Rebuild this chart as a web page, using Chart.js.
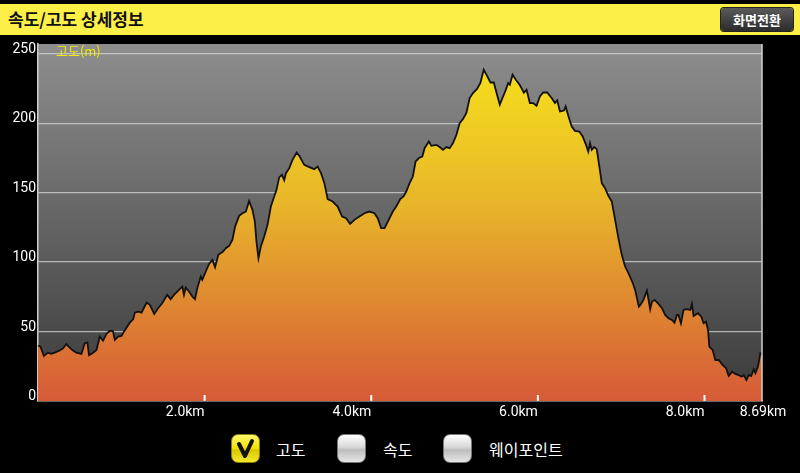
<!DOCTYPE html>
<html>
<head>
<meta charset="utf-8">
<script src="https://cdn.jsdelivr.net/npm/chart.js@4.4.1/dist/chart.umd.min.js"></script>
<style>
  html, body { margin: 0; padding: 0; background: #000; width: 800px; height: 473px; overflow: hidden;
    font-family: "Noto Sans CJK KR", sans-serif; }
  #header { position: absolute; left: 0; top: 4px; width: 800px; height: 31px; background: #fbef48; }
  #title { position: absolute; left: 8px; top: 0; line-height: 30px; font-size: 17px; font-weight: bold; color: #111; }
  #btn { position: absolute; left: 721px; top: 4px; width: 72px; height: 23px; border-radius: 3px;
    background: linear-gradient(#5a5a5a, #2c2c2c); color: #fff; font-size: 13px; font-weight: bold;
    line-height: 23px; text-align: center; box-shadow: 0 0 0 1px #222; }
  #wrap { position: absolute; left: 0; top: 36px; width: 800px; height: 390px; }
  .cb { position: absolute; top: 434px; width: 29px; height: 29px; border-radius: 7px; box-sizing: border-box;
    background: linear-gradient(#ffffff, #d8d8d8 45%, #bdbdbd 55%, #e6e6e6); border: 1px solid #777; }
  .cb.on { background: linear-gradient(#fff870, #f2e000 50%, #d9c800 55%, #f5e830); border-color: #8a8000; }
  .lt { position: absolute; top: 437px; line-height: 24px; font-size: 16px; color: #fff; }
</style>
</head>
<body>
<div id="header">
  <div id="title">속도/고도 상세정보</div>
  <div id="btn">화면전환</div>
</div>
<div id="wrap"><canvas id="altChart"></canvas></div>

<div class="cb on" style="left:231px">
  <svg width="27" height="27" viewBox="0 0 27 27"><polyline points="7,9 13,21 20,6" fill="none" stroke="#111" stroke-width="4" stroke-linejoin="round" stroke-linecap="round"/></svg>
</div>
<span class="lt" style="left:276px">고도</span>
<div class="cb" style="left:337px"></div>
<span class="lt" style="left:383px">속도</span>
<div class="cb" style="left:443px"></div>
<span class="lt" style="left:489px">웨이포인트</span>

<script>
// 거리(km) / 고도(m)
const distKm = [
  0, 0.031, 0.071, 0.119, 0.160, 0.200, 0.260, 0.300, 0.341, 0.380, 0.420, 0.461, 0.521, 0.561, 0.593, 0.613,
  0.661, 0.702, 0.741, 0.781, 0.822, 0.850, 0.874, 0.901, 0.922, 0.961, 1.002, 1.042, 1.102, 1.142, 1.162, 1.202,
  1.243, 1.303, 1.343, 1.395, 1.443, 1.491, 1.551, 1.592, 1.632, 1.692, 1.732, 1.752, 1.773, 1.812, 1.852, 1.884,
  1.912, 1.953, 1.972, 2.013, 2.053, 2.093, 2.125, 2.165, 2.221, 2.254, 2.294, 2.333, 2.366, 2.414, 2.454, 2.495,
  2.534, 2.574, 2.603, 2.622, 2.646, 2.675, 2.715, 2.755, 2.795, 2.835, 2.863, 2.895, 2.928, 2.955, 2.976, 3.016,
  3.055, 3.104, 3.136, 3.196, 3.256, 3.316, 3.356, 3.397, 3.437, 3.477, 3.537, 3.597, 3.650, 3.698, 3.746, 3.798,
  3.858, 3.918, 3.978, 4.038, 4.078, 4.119, 4.159, 4.199, 4.259, 4.300, 4.348, 4.387, 4.420, 4.460, 4.499, 4.532,
  4.572, 4.613, 4.640, 4.692, 4.721, 4.781, 4.821, 4.861, 4.901, 4.941, 4.981, 5.022, 5.061, 5.101, 5.142, 5.181,
  5.221, 5.270, 5.310, 5.350, 5.390, 5.431, 5.471, 5.510, 5.543, 5.575, 5.615, 5.643, 5.663, 5.696, 5.735, 5.783,
  5.832, 5.864, 5.904, 5.943, 5.984, 6.024, 6.064, 6.112, 6.165, 6.205, 6.232, 6.265, 6.313, 6.333, 6.365, 6.406,
  6.445, 6.497, 6.538, 6.578, 6.605, 6.626, 6.646, 6.674, 6.706, 6.738, 6.767, 6.806, 6.846, 6.887, 6.927, 6.966,
  7.007, 7.047, 7.087, 7.140, 7.167, 7.212, 7.231, 7.267, 7.309, 7.348, 7.369, 7.400, 7.440, 7.489, 7.528, 7.568,
  7.609, 7.640, 7.669, 7.688, 7.717, 7.749, 7.789, 7.829, 7.849, 7.869, 7.922, 7.962, 7.989, 8.018, 8.042, 8.058,
  8.098, 8.130, 8.170, 8.218, 8.259, 8.290, 8.331, 8.371, 8.410, 8.443, 8.471, 8.503, 8.531, 8.560, 8.591, 8.611,
  8.642, 8.670, 8.690
];
const altitude = [
  40, 39, 32.4, 34.8, 33.9, 34.8, 36.3, 38, 41, 38.4, 36.3, 34.8, 33.9, 41.6, 42, 33,
  34.8, 36.7, 46.3, 43.4, 48.3, 50, 50.6, 50, 44, 46.3, 46.8, 51, 56.4, 58.8, 63.6, 64.3,
  63.6, 70.8, 69.2, 62.7, 67, 70.4, 76.4, 73.3, 76.4, 80, 82.4, 76.4, 81.6, 78.8, 75.2, 73.3,
  81.2, 89.6, 87.2, 93.2, 98.7, 101.6, 96.3, 105.2, 107.6, 110, 111.7, 116, 125.6, 133.3, 135.2, 136.4,
  144, 137.6, 129.2, 114.8, 102.8, 111.2, 118.4, 126.8, 140, 147.2, 152, 161, 162.8, 159, 164, 167.6,
  173.6, 178.9, 176.5, 170, 168.4, 166.9, 168.8, 164, 156.8, 145.3, 143.6, 140, 132.8, 131.6, 127.5, 130.4,
  132.8, 135.2, 136.4, 135.2, 131.6, 124.4, 124.4, 129.2, 136.4, 140, 145.3, 147.2, 150.8, 156.8, 161.6, 172.4,
  174.9, 176, 182, 186.8, 183.7, 184.4, 182.8, 180.8, 182.8, 182, 185.6, 191.6, 200, 203, 207.3, 218.1,
  221.7, 224.6, 228.9, 238.5, 234.1, 229.3, 229.3, 220.5, 213.3, 218.1, 224, 228.9, 227.7, 234.9, 231.3, 227.5,
  222, 224, 214.5, 214.5, 212.5, 219.2, 222.1, 222.1, 218.1, 214.5, 216.4, 208.4, 209.1, 212, 205.3, 197.6,
  194.5, 194, 190.4, 184.4, 179.6, 185.6, 180.8, 182.8, 181.3, 168.8, 156.8, 153.2, 147.7, 143.6, 130.4, 117.2,
  105.2, 96.8, 92, 84.8, 80, 68, 69.2, 72.8, 79.5, 66.1, 71.5, 72.8, 70.4, 66.8, 62, 59.6,
  58.4, 56.4, 62, 62, 56, 65.6, 66.1, 65.6, 69.9, 61.2, 63.2, 60.7, 56, 57.1, 51.2, 39.1,
  36.7, 29.5, 29.5, 25.9, 23.6, 18, 21.1, 19.5, 18.7, 17.5, 18.7, 15.1, 18.7, 18, 22.8, 20,
  24.7, 34.4, 33
];
const yTicks = [0, 50, 100, 150, 200, 250];
const xTicks = [2, 4, 6, 8, 8.69];
const xTickLabels = ['2.0km', '4.0km', '6.0km', '8.0km', '8.69km'];
const yTitle = '고도(m)';

// 배경 + 라벨
const decorPlugin = {
  id: 'decor',
  beforeDraw(chart) {
    const { ctx, chartArea: a } = chart;
    const g = ctx.createLinearGradient(0, a.top, 0, a.bottom);
    g.addColorStop(0, '#8e8e8e');
    g.addColorStop(1, '#3a3a3a');
    ctx.save();
    ctx.fillStyle = g;
    ctx.fillRect(a.left, a.top, a.right - a.left, a.bottom - a.top);
    ctx.restore();
  },
  afterDraw(chart) {
    const { ctx, chartArea: a } = chart;
    const xs = chart.scales.x, ys = chart.scales.y;
    ctx.save();
    // right border
    ctx.strokeStyle = '#d0d0d0';
    ctx.lineWidth = 1.5;
    ctx.beginPath();
    ctx.moveTo(a.right, a.top);
    ctx.lineTo(a.right, a.bottom);
    ctx.stroke();

    ctx.font = '14px Roboto';
    ctx.fillStyle = '#fff';
    ctx.textAlign = 'right';
    ctx.textBaseline = 'alphabetic';
    yTicks.forEach(v => {
      ctx.fillText(String(v), a.left - 2, ys.getPixelForValue(v) - 1);
    });

    ctx.textBaseline = 'top';
    xTicks.forEach((v, i) => {
      const px = xs.getPixelForValue(v);
      const last = i === xTicks.length - 1;
      ctx.textAlign = last ? 'center' : 'right';
      ctx.fillText(xTickLabels[i], last ? px + 1 : px, a.bottom + 4);
      if (!last) {
        ctx.strokeStyle = '#fff';
        ctx.lineWidth = 2;
        ctx.beginPath();
        ctx.moveTo(px, a.bottom);
        ctx.lineTo(px, a.bottom - 6);
        ctx.stroke();
      }
    });

    ctx.font = '13px "Noto Sans CJK KR"';
    ctx.fillStyle = '#f2ea00';
    ctx.textAlign = 'left';
    ctx.textBaseline = 'middle';
    ctx.fillText(yTitle, a.left + 18, a.top + 7);
    ctx.restore();
  }
};

const canvas = document.getElementById('altChart');
const chart = new Chart(canvas.getContext('2d'), {
  type: 'line',
  data: {
    datasets: [{
      data: distKm.map((d, i) => ({ x: d, y: altitude[i] })),
      borderColor: '#111',
      borderWidth: 1.8,
      pointRadius: 0,
      tension: 0,
      fill: 'origin',
      backgroundColor(ctx) {
        const a = ctx.chart.chartArea;
        if (!a) return '#e8a030';
        const g = ctx.chart.ctx.createLinearGradient(0, a.top, 0, a.bottom);
        g.addColorStop(0, '#f7e61a');
        g.addColorStop(0.45, '#e8b52a');
        g.addColorStop(1, '#d65a38');
        return g;
      }
    }]
  },
  options: {
    responsive: true,
    maintainAspectRatio: false,
    animation: false,
    layout: { padding: { left: 38, right: 38, top: 8, bottom: 25 } },
    plugins: { legend: { display: false }, tooltip: { enabled: false } },
    scales: {
      x: {
        type: 'linear',
        min: 0,
        max: 8.69,
        grid: { display: false, drawTicks: false },
        ticks: { display: false },
        border: { color: '#d0d0d0', width: 1.5 }
      },
      y: {
        min: 0,
        max: 257,
        afterBuildTicks(scale) { scale.ticks = yTicks.map(v => ({ value: v })); },
        grid: {
          drawTicks: false,
          color: c => (c.tick && c.tick.value > 0 ? 'rgba(215,215,215,0.75)' : 'rgba(0,0,0,0)'),
          lineWidth: 1.2
        },
        ticks: { display: false },
        border: { color: '#d0d0d0', width: 1.5 }
      }
    }
  },
  plugins: [decorPlugin]
});
</script>
</body>
</html>
